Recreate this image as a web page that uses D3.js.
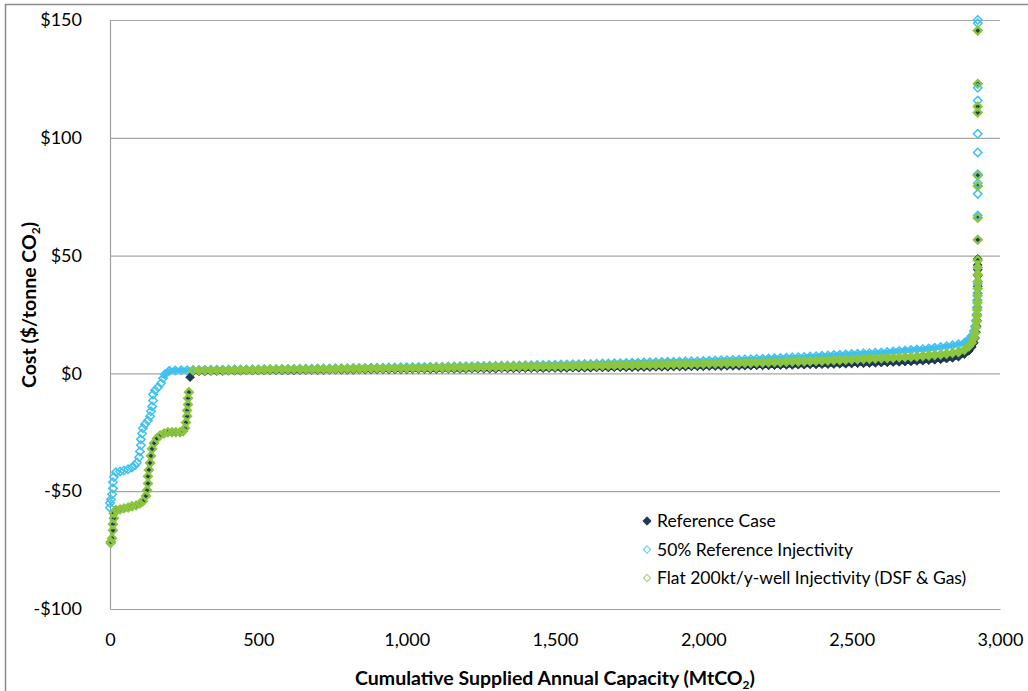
<!DOCTYPE html>
<html>
<head>
<meta charset="utf-8">
<script src="https://cdn.jsdelivr.net/npm/d3@7"></script>
<style>
  html, body { margin: 0; padding: 0; background: #fff; }
  svg { display: block; }
  text { font-family: Lato, "Open Sans", "DejaVu Sans", sans-serif; fill: #000; }
</style>
</head>
<body>
<svg id="chart" width="1028" height="691"></svg>
<script>
// Cost-supply curves: [cumulative capacity (MtCO2), cost ($/tonne CO2)]
const referenceCase = [
  [2,-72],[3,-71.5],[7,-70],[10,-66.6],[10,-64],[13,-61.5],[13,-59.4],[20,-58],[34,-57.7],[47,-57.3],
  [61,-56.9],[74,-56.4],[88,-56],[101,-55.2],[111,-54.3],[121,-52],[125,-49.6],[128,-46.7],[128,-43.7],
  [131,-41],[135,-38],[138,-35],[142,-32],[148,-29.7],[158,-27.6],[169,-26.3],[182,-25.5],[195,-25],
  [209,-25],[222,-25],[236,-25],[246,-24.6],[253,-23.3],[256,-20.8],[260,-18.2],[260,-15.7],[263,-13.2],
  [263,-10.6],[266,-8],[270,-1.6],
  [280,0.8],[300,0.9],[320,0.9],[340,1.0],[360,1.0],[380,1.0],[400,1.1],[420,1.1],[440,1.1],[460,1.2],
  [480,1.2],[500,1.2],[520,1.2],[540,1.3],[560,1.3],[580,1.3],[600,1.3],[620,1.3],[640,1.4],[660,1.4],
  [680,1.4],[700,1.4],[720,1.4],[740,1.5],[760,1.5],[780,1.5],[800,1.5],[820,1.5],[840,1.6],[860,1.6],
  [880,1.6],[900,1.6],[920,1.7],[940,1.7],[960,1.7],[980,1.7],[1000,1.7],[1020,1.8],[1040,1.8],[1060,1.8],
  [1080,1.8],[1100,1.8],[1120,1.9],[1140,1.9],[1160,1.9],[1180,1.9],[1200,1.9],[1220,2.0],[1240,2.0],
  [1260,2.0],[1280,2.0],[1300,2.0],[1320,2.1],[1340,2.1],[1360,2.1],[1380,2.1],[1400,2.2],[1420,2.2],
  [1440,2.2],[1460,2.2],[1480,2.3],[1500,2.3],[1520,2.3],[1540,2.3],[1560,2.4],[1580,2.4],[1600,2.4],
  [1620,2.4],[1640,2.5],[1660,2.5],[1680,2.5],[1700,2.6],[1720,2.6],[1740,2.6],[1760,2.6],[1780,2.7],
  [1800,2.7],[1820,2.7],[1840,2.8],[1860,2.8],[1880,2.8],[1900,2.9],[1920,2.9],[1940,2.9],[1960,3.0],
  [1980,3.0],[2000,3.0],[2020,3.1],[2040,3.1],[2060,3.1],[2080,3.2],[2100,3.2],[2120,3.2],[2140,3.3],
  [2160,3.3],[2180,3.4],[2200,3.4],[2220,3.4],[2240,3.5],[2260,3.5],[2280,3.6],[2300,3.6],[2320,3.7],
  [2340,3.7],[2360,3.8],[2380,3.8],[2400,3.9],[2420,3.9],[2440,4.0],[2460,4.1],[2480,4.1],[2500,4.2],
  [2520,4.3],[2540,4.3],[2560,4.4],[2580,4.5],[2600,4.6],[2620,4.7],[2640,4.8],[2660,4.9],[2680,5.0],
  [2700,5.1],[2720,5.3],[2740,5.4],[2760,5.6],[2780,5.8],[2800,6.0],[2820,6.3],[2840,6.6],[2860,7.1],
  [2880,8.2],[2895,9.6],[2905,11.2],[2912,13],[2916,15],[2919,17.5],[2921,20],[2922,22.5],[2923,25],
  [2924,28],[2924,31],[2925,34],[2925,37],[2925,39],[2925,41.5],[2925,44],[2925,46],[2925,48.6],
  [2925,56.7],[2925,66],[2925,79.5],[2925,84],[2925,110.7],[2925,113.3],[2925,122.9],[2925,145.5]
];

const halfInjectivity = [
  [0,-57],[0,-55],[3,-53.5],[7,-51.3],[10,-48.8],[10,-46.2],[13,-44],[20,-42],[34,-41.6],[47,-41.2],
  [61,-40.7],[74,-39.9],[84,-39],[91,-37.8],[98,-35.6],[101,-33.1],[104,-30.5],[104,-28],[108,-25.5],
  [111,-23.3],[118,-21.6],[128,-20],[135,-18.2],[138,-16.1],[142,-14],[145,-11.5],[145,-8.9],[152,-7.2],
  [162,-5.9],[172,-4.2],[179,-2.1],[185,-0.4],
  [200,1.1],[220,1.2],[240,1.3],[260,1.3],[280,1.4],[300,1.4],[320,1.4],[340,1.5],[360,1.5],[380,1.5],
  [400,1.6],[420,1.6],[440,1.6],[460,1.7],[480,1.7],[500,1.7],[520,1.8],[540,1.8],[560,1.8],[580,1.9],
  [600,1.9],[620,1.9],[640,2.0],[660,2.0],[680,2.0],[700,2.1],[720,2.1],[740,2.1],[760,2.2],[780,2.2],
  [800,2.2],[820,2.3],[840,2.3],[860,2.3],[880,2.4],[900,2.4],[920,2.4],[940,2.5],[960,2.5],[980,2.6],
  [1000,2.6],[1020,2.6],[1040,2.7],[1060,2.7],[1080,2.8],[1100,2.8],[1120,2.8],[1140,2.9],[1160,2.9],
  [1180,3.0],[1200,3.0],[1220,3.0],[1240,3.1],[1260,3.1],[1280,3.2],[1300,3.2],[1320,3.3],[1340,3.3],
  [1360,3.4],[1380,3.4],[1400,3.5],[1420,3.5],[1440,3.6],[1460,3.6],[1480,3.7],[1500,3.7],[1520,3.8],
  [1540,3.8],[1560,3.9],[1580,3.9],[1600,4.0],[1620,4.0],[1640,4.1],[1660,4.2],[1680,4.2],[1700,4.3],
  [1720,4.3],[1740,4.4],[1760,4.5],[1780,4.5],[1800,4.6],[1820,4.7],[1840,4.7],[1860,4.8],[1880,4.9],
  [1900,4.9],[1920,5.0],[1940,5.1],[1960,5.2],[1980,5.2],[2000,5.3],[2020,5.4],[2040,5.5],[2060,5.6],
  [2080,5.6],[2100,5.7],[2120,5.8],[2140,5.9],[2160,6.0],[2180,6.1],[2200,6.2],[2220,6.3],[2240,6.4],
  [2260,6.5],[2280,6.6],[2300,6.8],[2320,6.9],[2340,7.0],[2360,7.2],[2380,7.3],[2400,7.5],[2420,7.6],
  [2440,7.8],[2460,7.9],[2480,8.0],[2500,8.2],[2520,8.3],[2540,8.5],[2560,8.6],[2580,8.8],[2600,8.9],
  [2620,9.1],[2640,9.3],[2660,9.5],[2680,9.7],[2700,9.9],[2720,10.1],[2740,10.3],[2760,10.6],[2780,10.9],
  [2800,11.2],[2820,11.5],[2840,11.9],[2860,12.4],
  [2880,13],[2895,14.5],[2905,16],[2912,18],[2916,20],[2919,22.5],[2921,25],[2922,28],[2923,31],
  [2924,34],[2925,38],[2925,67],[2925,76.2],[2925,80.7],[2925,84.5],[2925,93.8],[2925,101.7],
  [2925,115.8],[2925,121.2],[2925,148.6],[2925,150]
];

const flatInjectivity = [
  [2,-72],[3,-71.5],[7,-70],[10,-66.6],[10,-64],[13,-61.5],[13,-59.4],[20,-58],[34,-57.7],[47,-57.3],
  [61,-56.9],[74,-56.4],[88,-56],[101,-55.2],[111,-54.3],[121,-52],[125,-49.6],[128,-46.7],[128,-43.7],
  [131,-41],[135,-38],[138,-35],[142,-32],[148,-29.7],[158,-27.6],[169,-26.3],[182,-25.5],[195,-25],
  [209,-25],[222,-25],[236,-25],[246,-24.6],[253,-23.3],[256,-20.8],[260,-18.2],[260,-15.7],[263,-13.2],
  [263,-10.6],[266,-8],
  [280,1.2],[300,1.2],[320,1.3],[340,1.3],[360,1.4],[380,1.4],[400,1.4],[420,1.5],[440,1.5],[460,1.5],
  [480,1.6],[500,1.6],[520,1.6],[540,1.7],[560,1.7],[580,1.7],[600,1.7],[620,1.8],[640,1.8],[660,1.8],
  [680,1.8],[700,1.9],[720,1.9],[740,1.9],[760,1.9],[780,2.0],[800,2.0],[820,2.0],[840,2.0],[860,2.1],
  [880,2.1],[900,2.1],[920,2.1],[940,2.2],[960,2.2],[980,2.2],[1000,2.2],[1020,2.3],[1040,2.3],[1060,2.3],
  [1080,2.4],[1100,2.4],[1120,2.4],[1140,2.4],[1160,2.5],[1180,2.5],[1200,2.5],[1220,2.6],[1240,2.6],
  [1260,2.6],[1280,2.7],[1300,2.7],[1320,2.7],[1340,2.8],[1360,2.8],[1380,2.8],[1400,2.9],[1420,2.9],
  [1440,2.9],[1460,3.0],[1480,3.0],[1500,3.0],[1520,3.1],[1540,3.1],[1560,3.1],[1580,3.2],[1600,3.2],
  [1620,3.3],[1640,3.3],[1660,3.3],[1680,3.4],[1700,3.4],[1720,3.5],[1740,3.5],[1760,3.5],[1780,3.6],
  [1800,3.6],[1820,3.7],[1840,3.7],[1860,3.8],[1880,3.8],[1900,3.9],[1920,3.9],[1940,4.0],[1960,4.0],
  [1980,4.1],[2000,4.1],[2020,4.2],[2040,4.2],[2060,4.3],[2080,4.3],[2100,4.4],[2120,4.4],[2140,4.5],
  [2160,4.5],[2180,4.6],[2200,4.6],[2220,4.7],[2240,4.8],[2260,4.8],[2280,4.9],[2300,5.0],[2320,5.0],
  [2340,5.1],[2360,5.2],[2380,5.3],[2400,5.4],[2420,5.5],[2440,5.6],[2460,5.7],[2480,5.8],[2500,5.9],
  [2520,6.0],[2540,6.1],[2560,6.2],[2580,6.3],[2600,6.4],[2620,6.5],[2640,6.6],[2660,6.8],[2680,6.9],
  [2700,7.0],[2720,7.2],[2740,7.4],[2760,7.6],[2780,7.8],[2800,8.0],[2820,8.3],[2840,8.7],[2860,9.1],
  [2880,10],[2895,11.5],[2905,13],[2912,15],[2916,17],[2919,19.5],[2921,22],[2922,24.5],[2923,27],
  [2924,30],[2924,33],[2925,36],[2925,39],[2925,42],[2925,45],[2925,48],
  [2925,56.7],[2925,66],[2925,79.5],[2925,84],[2925,110.7],[2925,113.3],[2925,122.9],[2925,145.5]
];

const xTicks = [0, 500, 1000, 1500, 2000, 2500, 3000];
const yTicks = [-100, -50, 0, 50, 100, 150];
const seriesNames = ["Reference Case", "50% Reference Injectivity", "Flat 200kt/y-well Injectivity (DSF & Gas)"];

const svg = d3.select("#chart");
const W = 1028, H = 691;
const plot = { left: 110, right: 1000, top: 20, bottom: 609 };

svg.append("rect").attr("width", W).attr("height", H).attr("fill", "#fff");
// chart-area frame
svg.append("rect").attr("x", 5.5).attr("y", 4.5).attr("width", 1200).attr("height", 1000)
  .attr("fill", "none").attr("stroke", "#8c8c8c").attr("stroke-width", 1.5);

const x = d3.scaleLinear().domain([0, 3000]).range([plot.left, plot.right]);
const y = d3.scaleLinear().domain([-100, 150]).range([plot.bottom, plot.top]);

// horizontal gridlines
const grid = svg.append("g").attr("transform", `translate(${plot.left},0)`)
  .call(d3.axisLeft(y).tickValues(yTicks.filter(v => v !== -100)).tickSize(-(plot.right - plot.left)).tickFormat(""));
grid.select(".domain").remove();
grid.selectAll("line").attr("stroke", "#a6a6a6").attr("stroke-width", 1.2);

// y axis
const yAxis = svg.append("g").attr("transform", `translate(${plot.left},0)`)
  .call(d3.axisLeft(y).tickValues(yTicks).tickSize(0).tickPadding(28)
    .tickFormat(v => (v < 0 ? "-$" : "$") + Math.abs(v)));
yAxis.select(".domain").attr("stroke", "#a0a0a0").attr("stroke-width", 1.2);
yAxis.selectAll("text").attr("font-size", 18).attr("font-family", "Lato, sans-serif").attr("fill", "#000");

// x axis
const xAxis = svg.append("g").attr("transform", `translate(0,${plot.bottom})`)
  .call(d3.axisBottom(x).tickValues(xTicks).tickSize(0).tickPadding(24).tickFormat(d3.format(",")));
xAxis.select(".domain").attr("stroke", "#a0a0a0").attr("stroke-width", 1.2);
xAxis.selectAll("text").attr("font-size", 18).attr("font-family", "Lato, sans-serif").attr("fill", "#000");

// axis titles
const yTitle = svg.append("text")
  .attr("transform", "translate(36,305) rotate(-90)")
  .attr("text-anchor", "middle").attr("font-size", 19.5).attr("font-weight", "bold");
yTitle.append("tspan").text("Cost ($/tonne CO");
yTitle.append("tspan").attr("font-size", 12).attr("dy", 4).text("2");
yTitle.append("tspan").attr("dy", -4).text(")");

const xTitle = svg.append("text")
  .attr("x", 555).attr("y", 685)
  .attr("text-anchor", "middle").attr("font-size", 19.5).attr("font-weight", "bold");
xTitle.append("tspan").text("Cumulative Supplied Annual Capacity (MtCO");
xTitle.append("tspan").attr("font-size", 12).attr("dy", 4).text("2");
xTitle.append("tspan").attr("dy", -4).text(")");

// square-on-point diamond marker
const diamond = r => `M0,${-r}L${r},0L0,${r}L${-r},0Z`;

const styles = [
  { data: referenceCase, r: 4.4, fill: "#1f3a5c", stroke: "#122840", sw: 0.8, band: "#1f3a5c" },
  { data: halfInjectivity, r: 4.2, fill: "none", stroke: "#3fc1f0", sw: 1.5, band: "#3fc1f0" },
  { data: flatInjectivity, r: 3.9, fill: "none", stroke: "#8cc63f", sw: 2.2, band: "#8cc63f" }
];

// the densely packed stretch of each curve (plateau and upturn) reads as a solid band
const denseRun = d => d[1] > -2.5 && d[1] < 50;
const bandLine = d3.line().x(d => x(d[0])).y(d => y(d[1]));

const marks = svg.append("g");
styles.forEach(s => {
  const g = marks.append("g");
  g.append("path").datum(s.data.filter(denseRun))
    .attr("d", bandLine).attr("fill", "none")
    .attr("stroke", s.band).attr("stroke-width", 5).attr("stroke-linejoin", "round");
  g.append("g").selectAll("path").data(s.data).join("path")
    .attr("d", diamond(s.r))
    .attr("transform", d => `translate(${x(d[0])},${y(d[1])})`)
    .attr("fill", s.fill).attr("stroke", s.stroke).attr("stroke-width", s.sw);
});

// legend
const legendStyles = [
  { r: 4.2, fill: "#1f3a5c", stroke: "#122840", sw: 0.8 },
  { r: 3.6, fill: "none", stroke: "#6fd0f5", sw: 1.1 },
  { r: 3.6, fill: "none", stroke: "#a9d47e", sw: 1.1 }
];
const legend = svg.append("g").attr("transform", "translate(647,521)");
seriesNames.forEach((name, i) => {
  const g = legend.append("g").attr("transform", `translate(0,${i * 28.5})`);
  g.append("path").attr("d", diamond(legendStyles[i].r))
    .attr("fill", legendStyles[i].fill).attr("stroke", legendStyles[i].stroke)
    .attr("stroke-width", legendStyles[i].sw);
  g.append("text").attr("x", 10).attr("dy", "0.36em").attr("font-size", 17.5).text(name);
});
</script>
</body>
</html>
